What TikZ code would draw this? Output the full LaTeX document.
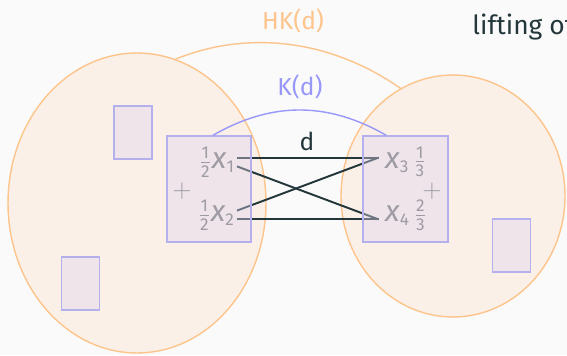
\documentclass[tikz,border=0pt]{standalone}
\usepackage{amsmath}
\usepackage{fontspec}
\setmainfont{Fira Sans}
\usepackage{tikz}
\usetikzlibrary{shapes.geometric}
\definecolor{bgcol}{RGB}{250,250,250}
\definecolor{hkorange}{RGB}{253,196,140}
\definecolor{boxline}{RGB}{180,176,238}
\definecolor{boxfill}{RGB}{220,212,236}
\definecolor{kblue}{RGB}{152,152,250}
\definecolor{darkteal}{RGB}{35,55,59}
\definecolor{ptgray}{RGB}{118,118,118}
\tikzset{
  setell/.style  = {ellipse,draw=hkorange,line width=0.8pt,fill=hkorange,fill opacity=0.17,inner sep=0pt},
  cellbox/.style = {rectangle,draw=boxline,line width=0.8pt,fill=boxfill,fill opacity=0.4,inner sep=0pt},
  ptlabel/.style = {text=ptgray,inner sep=1pt},
  dline/.style   = {darkteal,line width=1.1pt}
}
\newcommand{\half}[2]{$\frac{\text{#1}}{\text{#2}}$}
\newcommand{\mpt}[1]{{\fontsize{17}{17}\selectfont\textit{x}}\textsubscript{#1}}

\begin{document}
\begin{tikzpicture}[x=0.02cm,y=0.02cm,font=\fontsize{14}{16}\selectfont]
  \fill[bgcol] (0,0) rectangle (567,355);
  \useasboundingbox (0,0) rectangle (567,355);
  % the two sets
  \node[setell,minimum width=5.16cm,minimum height=6cm] (lset) at (137,152) {};
  \node[setell,minimum width=4.48cm,minimum height=4.84cm] (rset) at (453,159) {};
  \draw[hkorange,line width=0.8pt] (lset.75) to[out=22,in=145,looseness=0.92] (rset.116);
  % points with masses
  \node[ptlabel,anchor=east] (x1) at (237,193) {\half12\mpt1};
  \node[ptlabel,anchor=east] (x2) at (237,140) {\half12\mpt2};
  \node[ptlabel,anchor=west] (x3) at (383,193) {\mpt3\,\half13};
  \node[ptlabel,anchor=west] (x4) at (383,140) {\mpt4\,\half23};
  \node[text=ptgray] (pl) at (182,164) {$+$};
  \node[text=ptgray] (pr) at (432,164) {$+$};
  \draw[dline] ([yshift=2.5pt]x1.east) -- ([yshift=2.5pt,xshift=-2.5pt]x3.west);
  \draw[dline] ([yshift=-2.5pt]x1.east) -- ([yshift=-2.5pt,xshift=-2.5pt]x4.west);
  \draw[dline] ([yshift=2.5pt]x2.east) -- ([yshift=2.5pt,xshift=-2.5pt]x3.west);
  \draw[dline] ([yshift=-2.5pt]x2.east) -- ([yshift=-2.5pt,xshift=-2.5pt]x4.west);
  % cells
  \node[cellbox,minimum width=1.68cm,minimum height=2.12cm] (lbox) at (209,166) {};
  \node[cellbox,minimum width=1.7cm,minimum height=2.12cm] (rbox) at (405.5,166) {};
  \node[cellbox,minimum width=0.76cm,minimum height=1.06cm] (c1) at (133,222.5) {};
  \node[cellbox,minimum width=0.76cm,minimum height=1.06cm] (c2) at (80.5,71.5) {};
  \node[cellbox,minimum width=0.76cm,minimum height=1.06cm] (c3) at (511.5,109.5) {};
  \draw[kblue,line width=0.8pt] ([xshift=2.3pt]lbox.north) to[bend left=30] ([xshift=13.6pt]rbox.north west);
  % labels
  \node[text=hkorange] (hklbl) at (293,334) {HK(d)};
  \node[text=kblue] (klbl) at (300,268) {K(d)};
  \node[text=darkteal] (dlbl) at (307,214) {d};
  \node[text=darkteal,anchor=base west,inner sep=0pt,font=\fontsize{15}{17}\selectfont] (lift) at (472,320) {lifting of};
\end{tikzpicture}
\end{document}
